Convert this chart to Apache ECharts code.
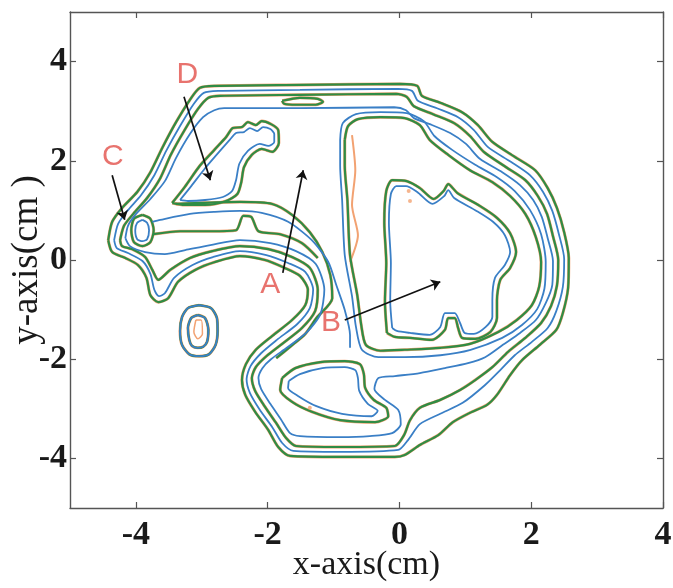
<!DOCTYPE html>
<html lang="en">
<head>
<meta charset="utf-8"/>
<title>contours</title>
<script src="https://cdn.jsdelivr.net/npm/echarts@6/dist/echarts.min.js"></script>
<style>
    html, body { margin: 0; padding: 0; background: #fff; }
    #main { width: 673px; height: 588px; }
</style>
</head>
<body>
<div id="main"></div>
<script>
    // axis ticks
    var xTicks = [-4, -2, 0, 2, 4];
    var yTicks = [-4, -2, 0, 2, 4];

    // outer rings (cm)
    var ring1 = [[-4.42, 0.40], [-4.36, 0.77], [-4.21, 1.05], [-3.98, 1.37], [-3.78, 1.77], [-3.60, 2.26], [-3.39, 2.78], [-3.18, 3.23], [-3.03, 3.47], [-2.80, 3.51], [-1.51, 3.53], [0.01, 3.55], [0.27, 3.51], [0.34, 3.31], [0.62, 3.17], [0.95, 2.98], [1.19, 2.72], [1.41, 2.38], [1.75, 2.08], [2.06, 1.81], [2.25, 1.45], [2.39, 1.05], [2.50, 0.56], [2.57, 0.04], [2.56, -0.56], [2.48, -1.07], [2.38, -1.41], [2.13, -1.71], [1.86, -2.02], [1.68, -2.32], [1.48, -2.72], [1.33, -2.92], [1.07, -3.08], [0.81, -3.27], [0.59, -3.53], [0.31, -3.73], [0.08, -3.93], [-0.07, -3.97], [-0.90, -3.97], [-1.66, -3.95], [-1.84, -3.77], [-1.99, -3.43], [-2.19, -3.06], [-2.34, -2.72], [-2.39, -2.42], [-2.33, -2.10], [-2.18, -1.81], [-1.93, -1.53], [-1.63, -1.21], [-1.43, -0.91], [-1.39, -0.60], [-1.51, -0.32], [-1.74, -0.16], [-2.04, 0.00], [-2.42, 0.08], [-2.80, -0.04], [-3.10, -0.20], [-3.36, -0.44], [-3.51, -0.77], [-3.66, -0.85], [-3.78, -0.71], [-3.84, -0.36], [-3.97, -0.10], [-4.16, 0.04], [-4.36, 0.16]];
    var ring2 = [[-4.33, 0.40], [-4.27, 0.73], [-4.13, 0.99], [-3.92, 1.31], [-3.72, 1.71], [-3.54, 2.20], [-3.33, 2.70], [-3.12, 3.15], [-2.97, 3.37], [-2.75, 3.41], [-1.51, 3.43], [-0.02, 3.45], [0.19, 3.41], [0.28, 3.21], [0.57, 3.06], [0.89, 2.88], [1.13, 2.62], [1.34, 2.28], [1.69, 1.98], [1.98, 1.71], [2.18, 1.37], [2.32, 0.99], [2.42, 0.52], [2.50, 0.02], [2.48, -0.54], [2.38, -1.03], [2.25, -1.37], [2.01, -1.65], [1.75, -1.92], [1.53, -2.22], [1.30, -2.52], [0.96, -2.88], [0.62, -3.10], [0.31, -3.31], [0.13, -3.63], [-0.02, -3.83], [-0.90, -3.87], [-1.61, -3.85], [-1.78, -3.69], [-1.93, -3.37], [-2.12, -3.02], [-2.27, -2.68], [-2.32, -2.40], [-2.26, -2.14], [-2.10, -1.88], [-1.86, -1.61], [-1.55, -1.29], [-1.36, -0.97], [-1.31, -0.60], [-1.43, -0.24], [-1.69, -0.06], [-2.02, 0.10], [-2.42, 0.18], [-2.83, 0.06], [-3.14, -0.10], [-3.42, -0.36], [-3.56, -0.67], [-3.65, -0.73], [-3.72, -0.60], [-3.78, -0.28], [-3.90, -0.02], [-4.12, 0.14], [-4.29, 0.24]];
    var ring3 = [[-4.24, 0.40], [-4.18, 0.69], [-4.04, 0.93], [-3.83, 1.25], [-3.63, 1.65], [-3.47, 2.12], [-3.26, 2.62], [-3.06, 3.04], [-2.90, 3.27], [-2.72, 3.31], [-1.51, 3.33], [-0.05, 3.35], [0.11, 3.29], [0.22, 3.10], [0.51, 2.94], [0.83, 2.76], [1.07, 2.50], [1.28, 2.18], [1.62, 1.87], [1.91, 1.61], [2.10, 1.29], [2.24, 0.93], [2.33, 0.48], [2.41, 0.00], [2.39, -0.52], [2.30, -0.93], [2.15, -1.27], [1.91, -1.57], [1.65, -1.85], [1.41, -2.16], [1.15, -2.42], [0.92, -2.62], [0.62, -2.82], [0.31, -2.98], [0.16, -3.23], [0.07, -3.53], [-0.07, -3.75], [-0.90, -3.77], [-1.57, -3.75], [-1.72, -3.59], [-1.87, -3.29], [-2.04, -2.96], [-2.19, -2.64], [-2.24, -2.38], [-2.18, -2.16], [-2.02, -1.94], [-1.78, -1.69], [-1.48, -1.37], [-1.28, -1.03], [-1.24, -0.60], [-1.36, -0.16], [-1.63, 0.06], [-1.99, 0.22], [-2.42, 0.28], [-2.84, 0.18], [-3.18, 0.04], [-3.48, -0.20], [-3.66, -0.40], [-3.75, -0.20], [-3.86, 0.06], [-4.06, 0.22], [-4.21, 0.28]];
    var ring4 = [[-4.16, 0.44], [-4.12, 0.69], [-4.01, 0.91], [-3.78, 1.23], [-3.56, 1.59], [-3.39, 2.06], [-3.18, 2.54], [-2.98, 2.88], [-2.81, 3.02], [-2.66, 3.06], [-1.51, 3.06], [-0.08, 3.08], [0.10, 3.02], [0.22, 2.86], [0.46, 2.74], [0.77, 2.56], [1.01, 2.34], [1.22, 2.04], [1.56, 1.77], [1.83, 1.51], [2.03, 1.21], [2.16, 0.87], [2.25, 0.44], [2.33, -0.02], [2.32, -0.50], [2.22, -0.87], [2.07, -1.21], [1.83, -1.47], [1.57, -1.71], [1.30, -1.96], [1.04, -2.08], [0.69, -2.18], [0.31, -2.28], [-0.07, -2.34], [-0.32, -2.38], [-0.38, -2.60], [-0.22, -2.82], [-0.02, -3.02], [0.02, -3.31], [-0.11, -3.49], [-0.45, -3.55], [-0.90, -3.57], [-1.51, -3.55], [-1.66, -3.49], [-1.80, -3.21], [-1.96, -2.90], [-2.10, -2.60], [-2.14, -2.38], [-2.08, -2.18], [-1.95, -2.00], [-1.71, -1.77], [-1.40, -1.45], [-1.20, -1.09], [-1.14, -0.60], [-1.27, -0.08], [-1.57, 0.18], [-1.96, 0.34], [-2.42, 0.40], [-2.87, 0.30], [-3.25, 0.20], [-3.56, 0.12], [-3.86, 0.16], [-4.09, 0.28]];

    // arch around region B
    var archGreen = [[-0.83, 2.42], [-0.78, 2.70], [-0.63, 2.84], [-0.29, 2.88], [0.08, 2.86], [0.31, 2.72], [0.46, 2.42], [0.74, 2.12], [1.07, 1.81], [1.41, 1.57], [1.68, 1.29], [1.91, 0.93], [2.07, 0.46], [2.15, -0.04], [2.12, -0.54], [2.01, -0.91], [1.78, -1.21], [1.50, -1.45], [1.07, -1.69], [0.62, -1.77], [0.08, -1.81], [-0.29, -1.83], [-0.51, -1.71], [-0.58, -1.31], [-0.64, -0.71], [-0.75, 0.10], [-0.79, 1.21], [-0.83, 1.90]];
    var archBlue = [[-0.90, 2.42], [-0.86, 2.76], [-0.66, 2.94], [-0.29, 2.98], [0.11, 2.96], [0.37, 2.80], [0.53, 2.50], [0.80, 2.22], [1.15, 1.92], [1.48, 1.67], [1.75, 1.39], [1.98, 1.01], [2.15, 0.52], [2.22, -0.04], [2.20, -0.58], [2.09, -0.99], [1.86, -1.31], [1.56, -1.57], [1.08, -1.81], [0.62, -1.92], [0.08, -1.96], [-0.32, -1.96], [-0.57, -1.81], [-0.66, -1.35], [-0.72, -0.73], [-0.83, 0.10], [-0.87, 1.21], [-0.90, 1.90]];

    // region B loop
    var bLoopGreen = [[-0.19, -1.47], [-0.22, -0.83], [-0.20, -0.06], [-0.23, 0.75], [-0.20, 1.39], [-0.11, 1.61], [0.11, 1.59], [0.31, 1.45], [0.52, 1.23], [0.67, 1.39], [0.74, 1.53], [0.88, 1.35], [1.22, 1.09], [1.48, 0.85], [1.68, 0.54], [1.77, 0.16], [1.68, -0.16], [1.53, -0.40], [1.48, -0.81], [1.48, -1.17], [1.38, -1.45], [1.15, -1.59], [0.95, -1.57], [0.89, -1.37], [0.84, -1.17], [0.74, -1.17], [0.69, -1.41], [0.49, -1.61], [0.16, -1.57], [-0.07, -1.55]];
    var bLoopBlue = [[-0.11, -1.37], [-0.14, -0.83], [-0.13, -0.06], [-0.16, 0.75], [-0.13, 1.33], [-0.05, 1.49], [0.10, 1.49], [0.27, 1.37], [0.50, 1.13], [0.68, 1.29], [0.74, 1.41], [0.83, 1.25], [1.17, 0.99], [1.42, 0.77], [1.60, 0.50], [1.68, 0.16], [1.60, -0.10], [1.45, -0.36], [1.41, -0.81], [1.41, -1.15], [1.31, -1.35], [1.13, -1.49], [0.99, -1.47], [0.92, -1.27], [0.84, -1.07], [0.69, -1.07], [0.62, -1.35], [0.46, -1.51], [0.16, -1.47], [-0.04, -1.43]];

    // region D loop
    var dLoopGreen = [[-3.45, 1.15], [-3.26, 1.47], [-3.03, 1.90], [-2.81, 2.22], [-2.63, 2.48], [-2.53, 2.66], [-2.39, 2.68], [-2.30, 2.78], [-2.18, 2.72], [-2.09, 2.80], [-1.95, 2.74], [-1.84, 2.62], [-1.83, 2.36], [-1.93, 2.18], [-2.09, 2.24], [-2.24, 2.12], [-2.36, 1.87], [-2.40, 1.57], [-2.46, 1.33], [-2.63, 1.19], [-2.95, 1.11], [-3.26, 1.11]];
    var dLoopBlue = [[-3.33, 1.21], [-3.16, 1.49], [-2.95, 1.85], [-2.75, 2.16], [-2.59, 2.40], [-2.48, 2.56], [-2.36, 2.58], [-2.27, 2.66], [-2.16, 2.60], [-2.07, 2.68], [-1.96, 2.64], [-1.90, 2.54], [-1.90, 2.38], [-1.99, 2.30], [-2.12, 2.34], [-2.30, 2.20], [-2.43, 1.94], [-2.48, 1.61], [-2.54, 1.39], [-2.68, 1.27], [-2.95, 1.21], [-3.21, 1.19]];

    // lower lobe
    var lobeGreen = [[-1.78, -2.38], [-1.58, -2.18], [-1.20, -2.06], [-0.83, -2.04], [-0.60, -2.10], [-0.54, -2.30], [-0.52, -2.58], [-0.39, -2.82], [-0.20, -2.98], [-0.17, -3.15], [-0.37, -3.27], [-0.90, -3.23], [-1.33, -3.06], [-1.63, -2.86], [-1.81, -2.62]];
    var lobeBlue = [[-1.68, -2.44], [-1.51, -2.30], [-1.17, -2.18], [-0.83, -2.16], [-0.67, -2.22], [-0.63, -2.38], [-0.61, -2.64], [-0.48, -2.90], [-0.33, -3.04], [-0.42, -3.15], [-0.87, -3.10], [-1.27, -2.94], [-1.54, -2.74], [-1.69, -2.58]];

    // small islands
    var ovalOuter = [[-3.04, -0.91], [-2.86, -0.97], [-2.77, -1.17], [-2.76, -1.43], [-2.79, -1.71], [-2.89, -1.90], [-3.04, -1.94], [-3.19, -1.90], [-3.30, -1.71], [-3.33, -1.43], [-3.30, -1.15], [-3.21, -0.97]];
    var ovalInner = [[-3.06, -1.11], [-2.95, -1.17], [-2.90, -1.41], [-2.92, -1.65], [-2.98, -1.75], [-3.06, -1.77], [-3.15, -1.73], [-3.19, -1.61], [-3.21, -1.37], [-3.16, -1.17]];
    var ovalCore = [[-3.09, -1.21], [-3.01, -1.21], [-2.99, -1.49], [-3.06, -1.59], [-3.12, -1.45]];
    var cLoopGreen = [[-3.90, 0.91], [-3.78, 0.83], [-3.73, 0.60], [-3.78, 0.36], [-3.90, 0.28], [-4.03, 0.36], [-4.07, 0.60], [-4.03, 0.83]];
    var cLoopBlue = [[-3.90, 0.81], [-3.83, 0.75], [-3.80, 0.60], [-3.83, 0.42], [-3.90, 0.38], [-3.98, 0.42], [-4.01, 0.60], [-3.98, 0.75]];
    var topLoop = [[-1.78, 3.21], [-1.51, 3.27], [-1.24, 3.25], [-1.16, 3.19], [-1.27, 3.13], [-1.57, 3.13], [-1.75, 3.15]];

    // open strands under the arm
    var lambdaLine = [[-3.74, 0.52], [-3.33, 0.58], [-2.87, 0.58], [-2.48, 0.60], [-2.37, 0.89], [-2.25, 0.87], [-2.14, 0.58], [-1.81, 0.52], [-1.48, 0.34], [-1.24, 0.04]];
    var armLineGreen = [[-3.39, 1.13], [-3.03, 1.15], [-2.42, 1.17], [-1.93, 1.13], [-1.63, 0.91], [-1.36, 0.56], [-1.17, 0.16], [-1.05, -0.30], [-1.02, -0.77], [-1.26, -1.17], [-1.43, -1.49], [-1.66, -1.75], [-1.87, -1.98]];
    var armLineBlue = [[-3.75, 0.77], [-3.63, 0.81], [-3.18, 0.93], [-2.80, 0.97], [-2.42, 0.99], [-2.09, 0.95], [-1.69, 0.77], [-1.33, 0.40], [-1.08, -0.04], [-0.96, -0.50], [-0.83, -1.01], [-0.75, -1.51], [-0.75, -1.77]];
    var orangeWiggle = [[-0.72, 2.52], [-0.67, 1.81], [-0.72, 1.11], [-0.63, 0.50], [-0.75, -0.04]];
    var orangeDots = [[-1.36, -2.98], [0.14, 1.39], [0.16, 1.19]];

    // annotations
    var letters = ['D', 'C', 'A', 'B'];
    var letterPos = [[-3.22, 3.73], [-4.35, 2.08], [-1.96, -0.50], [-1.04, -1.27]];
    var arrows = [
        [[-3.27, 3.29], [-2.87, 1.61]],
        [[-4.36, 1.71], [-4.17, 0.81]],
        [[-1.77, -0.26], [-1.46, 1.81]],
        [[-0.83, -1.21], [0.62, -0.44]]
    ];

    var ORANGE = '#f2a272', GREEN = '#2f8c45', BLUE = '#3a7fc6';

    function closeLoop(p) { return p.concat([p[0]]); }

    var greenLoops = [ring1, ring3, archGreen, bLoopGreen, dLoopGreen, lobeGreen, ovalOuter, ovalInner, cLoopGreen, topLoop];
    var greenOpen = [lambdaLine, armLineGreen];
    var blueLoops = [ring2, ring4, archBlue, bLoopBlue, dLoopBlue, lobeBlue, ovalOuter, ovalInner, cLoopBlue];
    var blueOpen = [armLineBlue];

    function lineSeries(data, color, width, z) {
        return {
            type: 'line',
            data: data,
            showSymbol: false,
            smooth: 0.25,
            silent: true,
            z: z,
            lineStyle: { color: color, width: width }
        };
    }

    var series = [];
    var greens = greenLoops.map(closeLoop).concat(greenOpen);
    greens.forEach(function (d) { series.push(lineSeries(d, ORANGE, 3.0, 2)); });
    series.push(lineSeries(orangeWiggle, ORANGE, 2, 2));
    series.push(lineSeries(closeLoop(ovalCore), ORANGE, 1.5, 2));
    greens.forEach(function (d) { series.push(lineSeries(d, GREEN, 2.2, 3)); });
    blueLoops.map(closeLoop).concat(blueOpen).forEach(function (d) {
        series.push(lineSeries(d, BLUE, 1.8, 4));
    });
    series.push({
        type: 'scatter', data: orangeDots, symbolSize: 4, silent: true, z: 3,
        itemStyle: { color: ORANGE }
    });
    series.push({
        type: 'lines',
        coordinateSystem: 'cartesian2d',
        silent: true,
        z: 6,
        symbol: ['none', 'arrow'],
        symbolSize: 9,
        lineStyle: { color: '#111', width: 1.7, opacity: 1, curveness: 0 },
        data: arrows.map(function (a) { return { coords: a }; })
    });
    series.push({
        type: 'scatter',
        silent: true,
        z: 7,
        symbolSize: 1,
        itemStyle: { color: 'rgba(0,0,0,0)' },
        label: {
            show: true, position: 'inside', formatter: '{b}',
            fontFamily: 'Liberation Sans', fontSize: 30, color: '#e2504a'
        },
        data: letters.map(function (t, i) { return { name: t, value: letterPos[i] }; })
    });

    var frame = { show: true, onZero: false, lineStyle: { color: '#555', width: 1.4 } };
    var tickStyle = { color: '#555', width: 1.2 };
    var labelFont = { fontFamily: 'Liberation Serif', fontSize: 34, fontWeight: 'bold', color: '#1a1a1a' };

    var chart = echarts.init(document.getElementById('main'));
    chart.setOption({
        animation: false,
        backgroundColor: '#fff',
        grid: { left: 70, right: 10, top: 12, bottom: 80, containLabel: false, outerBoundsMode: 'none' },
        xAxis: [{
            type: 'value', min: -5, max: 4, position: 'bottom',
            axisLine: frame,
            axisTick: { show: true, inside: true, length: 6, customValues: xTicks, lineStyle: tickStyle },
            axisLabel: Object.assign({ customValues: xTicks, margin: 10 }, labelFont),
            splitLine: { show: false },
            name: 'x-axis(cm)', nameLocation: 'middle', nameGap: 40, nameMoveOverlap: false,
            nameTextStyle: { fontFamily: 'Liberation Serif', fontSize: 34, color: '#1a1a1a' }
        }, {
            type: 'value', min: -5, max: 4, position: 'top',
            axisLine: frame,
            axisTick: { show: true, inside: true, length: 6, customValues: xTicks, lineStyle: tickStyle },
            axisLabel: { show: false },
            splitLine: { show: false }
        }],
        yAxis: [{
            type: 'value', min: -5, max: 5, position: 'left',
            axisLine: frame,
            axisTick: { show: true, inside: true, length: 6, customValues: yTicks, lineStyle: tickStyle },
            axisLabel: Object.assign({ customValues: yTicks, margin: 3 }, labelFont),
            splitLine: { show: false },
            name: 'y-axis(cm )', nameLocation: 'middle', nameGap: 24, nameMoveOverlap: false,
            nameTextStyle: { fontFamily: 'Liberation Serif', fontSize: 37, color: '#1a1a1a' }
        }, {
            type: 'value', min: -5, max: 5, position: 'right',
            axisLine: frame,
            axisTick: { show: true, inside: true, length: 6, customValues: yTicks, lineStyle: tickStyle },
            axisLabel: { show: false },
            splitLine: { show: false }
        }],
        series: series
    });
</script>
</body>
</html>
